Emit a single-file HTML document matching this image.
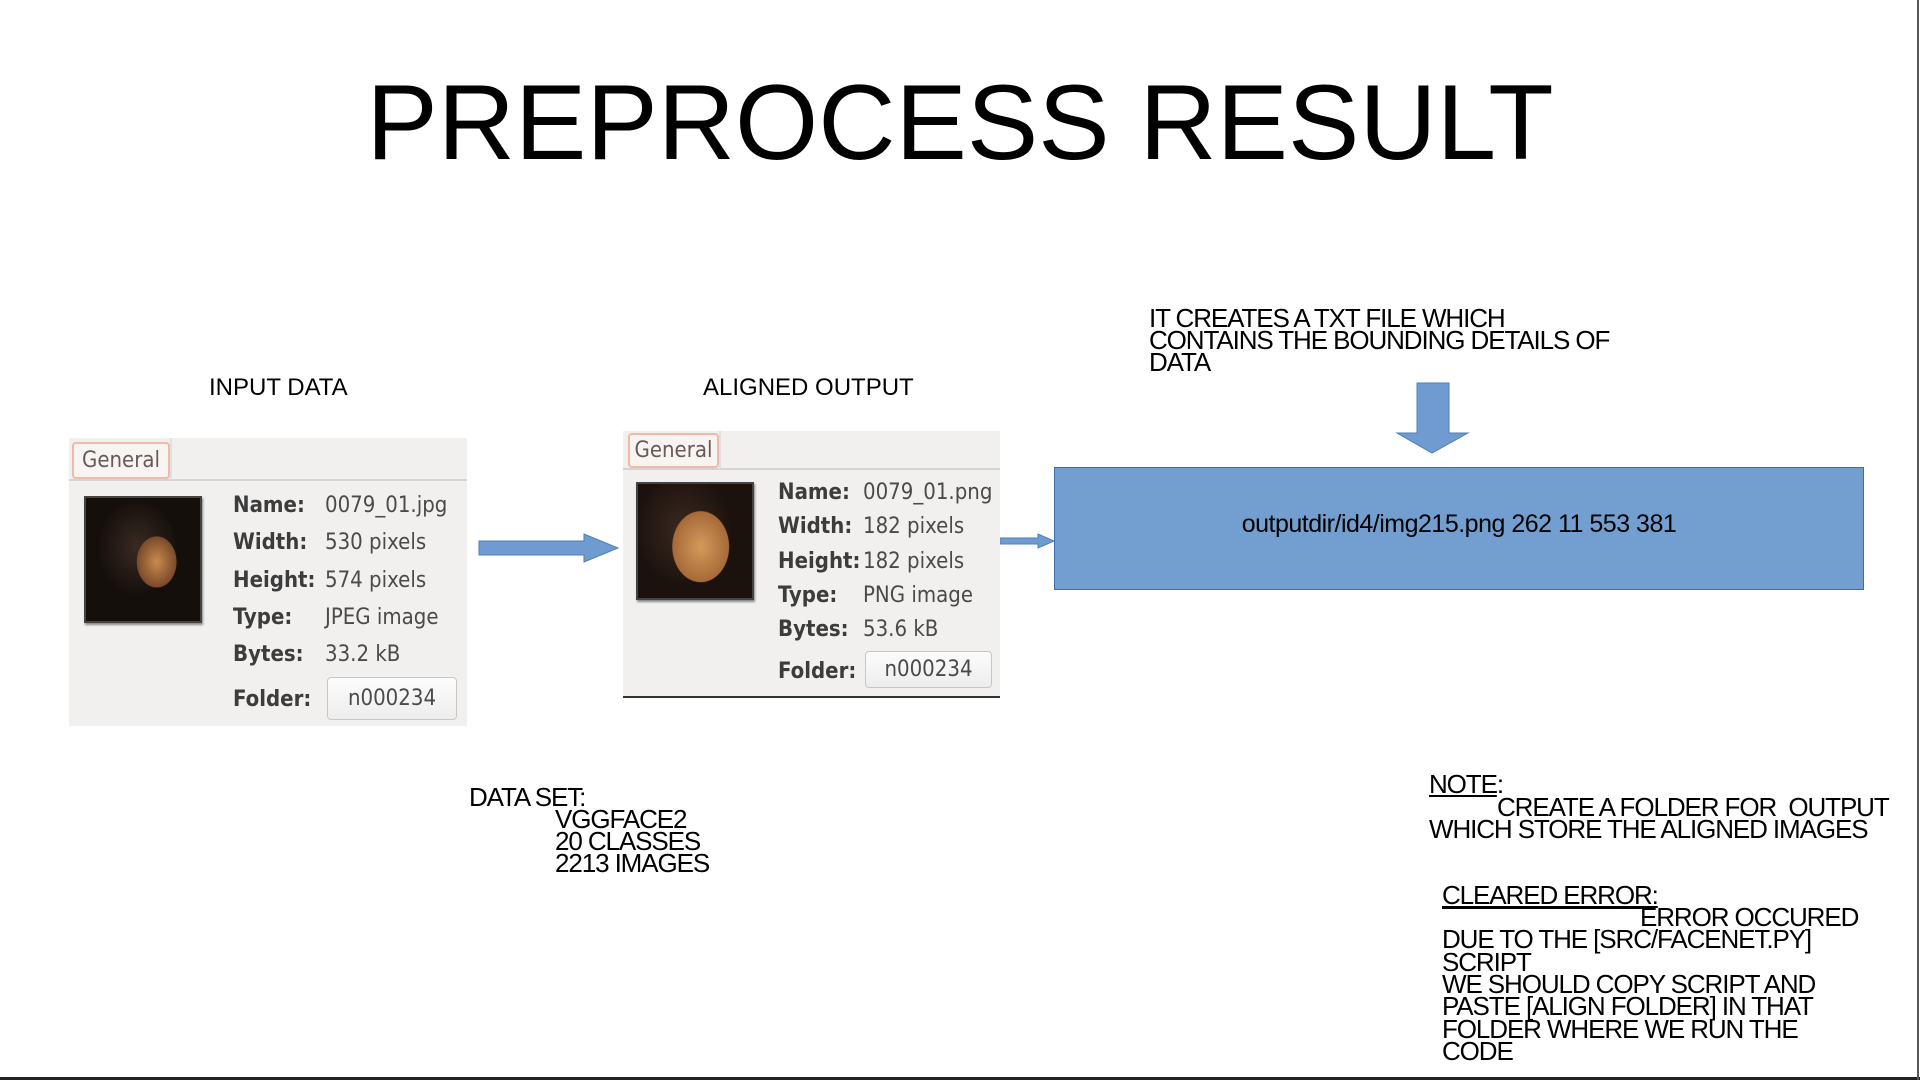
<!DOCTYPE html>
<html><head><meta charset="utf-8"><style>
body{margin:0;width:1920px;height:1080px;background:#fff;position:relative;overflow:hidden;font-family:"Liberation Sans",sans-serif;color:#000}
.a{position:absolute;white-space:pre}
.t{font-size:26px;line-height:22px;letter-spacing:-1.1px}
.lab{font-size:24px}
.p{position:absolute;background:#f1f0ef}
.pf{font-family:"DejaVu Sans Condensed","DejaVu Sans",sans-serif;color:#4a4a4a;font-size:22px;position:absolute;white-space:pre}
.b{font-weight:bold;color:#3c3c3c}
.tab{position:absolute;border:2px solid #f0b9a8;border-radius:4px;background:#f7f4f2;color:#6a5a55;font-family:"DejaVu Sans Condensed","DejaVu Sans",sans-serif;font-size:22px;text-align:center;box-sizing:border-box}
.btn{position:absolute;border:1px solid #c8c6c4;border-radius:4px;background:linear-gradient(#fcfcfc,#eeeded);font-family:"DejaVu Sans Condensed","DejaVu Sans",sans-serif;font-size:22px;color:#4a4a4a;text-align:center;box-sizing:border-box}
.ph{position:absolute;border:2px solid #444;box-shadow:1px 2px 2px #888;overflow:hidden}
</style></head><body>
<div class="a" style="left:0;width:1920px;text-align:center;top:62px;font-size:107px;line-height:120px;white-space:nowrap;padding-left:0;">PREPROCESS RESULT</div>

<div class="a lab" style="left:209px;top:374px">INPUT DATA</div>
<div class="a lab" style="left:703px;top:374px">ALIGNED OUTPUT</div>

<div class="a t" style="left:1149px;top:307px">IT CREATES A TXT FILE WHICH</div>
<div class="a t" style="left:1149px;top:329px">CONTAINS THE BOUNDING DETAILS OF</div>
<div class="a t" style="left:1149px;top:351px">DATA</div>

<!-- left panel -->
<div class="p" style="left:69px;top:438px;width:398px;height:288px"></div>
<div style="position:absolute;left:69px;top:479px;width:398px;height:2px;background:#d6d4d2"></div>
<div style="position:absolute;left:170px;top:438px;width:2px;height:42px;background:#e2e0de"></div>
<div class="tab" style="left:72px;top:442px;width:98px;height:37px;line-height:33px">General</div>
<div class="ph" style="left:84px;top:496px;width:114px;height:123px;background:radial-gradient(ellipse 28px 36px at 62% 52%,#c98a4e,#7a4a2a 70%,transparent 72%),radial-gradient(ellipse 50px 60px at 45% 40%,#3a2a22,#150f0c 80%),#140d0b"></div>
<div class="pf b" style="left:233px;top:493px">Name:</div><div class="pf" style="left:325px;top:493px">0079_01.jpg</div>
<div class="pf b" style="left:233px;top:530px">Width:</div><div class="pf" style="left:325px;top:530px">530 pixels</div>
<div class="pf b" style="left:233px;top:568px">Height:</div><div class="pf" style="left:325px;top:568px">574 pixels</div>
<div class="pf b" style="left:233px;top:605px">Type:</div><div class="pf" style="left:325px;top:605px">JPEG image</div>
<div class="pf b" style="left:233px;top:642px">Bytes:</div><div class="pf" style="left:325px;top:642px">33.2 kB</div>
<div class="pf b" style="left:233px;top:687px">Folder:</div>
<div class="btn" style="left:327px;top:677px;width:130px;height:43px;line-height:41px">n000234</div>

<svg style="position:absolute;left:0;top:0" width="1920" height="1080">
<polygon points="479,541 584,541 584,534 618,548 584,562 584,555 479,555" fill="#6f9bd0" stroke="#4f7fb8" stroke-width="1"/>
<polygon points="1000,538 1038,538 1038,534 1054,541 1038,548 1038,544 1000,544" fill="#6f9bd0" stroke="#4f7fb8" stroke-width="1"/>
<polygon points="1417,383 1449,383 1449,433 1468,433 1432,453 1397,433 1417,433" fill="#6f9bd0" stroke="#4f7fb8" stroke-width="1"/>
</svg>

<!-- right panel -->
<div class="p" style="left:623px;top:431px;width:377px;height:267px"></div>
<div style="position:absolute;left:623px;top:468px;width:377px;height:2px;background:#d6d4d2"></div>
<div style="position:absolute;left:719px;top:431px;width:2px;height:38px;background:#e2e0de"></div>
<div style="position:absolute;left:623px;top:696px;width:377px;height:2px;background:#333"></div>
<div class="tab" style="left:628px;top:433px;width:91px;height:35px;line-height:31px">General</div>
<div class="ph" style="left:636px;top:482px;width:114px;height:114px;background:radial-gradient(ellipse 40px 50px at 55% 55%,#d39a5c,#a76a38 70%,transparent 72%),radial-gradient(ellipse 60px 70px at 40% 40%,#3b2a20,#1c120d 80%),#1c120d"></div>
<div class="pf b" style="left:778px;top:480px">Name:</div><div class="pf" style="left:863px;top:480px">0079_01.png</div>
<div class="pf b" style="left:778px;top:514px">Width:</div><div class="pf" style="left:863px;top:514px">182 pixels</div>
<div class="pf b" style="left:778px;top:549px">Height:</div><div class="pf" style="left:863px;top:549px">182 pixels</div>
<div class="pf b" style="left:778px;top:583px">Type:</div><div class="pf" style="left:863px;top:583px">PNG image</div>
<div class="pf b" style="left:778px;top:617px">Bytes:</div><div class="pf" style="left:863px;top:617px">53.6 kB</div>
<div class="pf b" style="left:778px;top:659px">Folder:</div>
<div class="btn" style="left:865px;top:651px;width:127px;height:37px;line-height:35px">n000234</div>

<!-- blue box -->
<div style="position:absolute;left:1054px;top:467px;width:810px;height:123px;background:#729fcf;border:1px solid #3d6ea8;box-sizing:border-box"></div>
<div class="a" style="left:1054px;width:810px;text-align:center;top:510px;font-size:25px;letter-spacing:-0.5px">outputdir/id4/img215.png 262 11 553 381</div>

<!-- data set -->
<div class="a t" style="left:469px;top:786px">DATA SET:</div>
<div class="a t" style="left:555px;top:808px">VGGFACE2</div>
<div class="a t" style="left:555px;top:830px">20 CLASSES</div>
<div class="a t" style="left:555px;top:852px">2213 IMAGES</div>

<!-- note -->
<div class="a t" style="left:1429px;top:773px"><u>NOTE</u>:</div>
<div class="a t" style="left:1497px;top:796px">CREATE A FOLDER FOR  OUTPUT</div>
<div class="a t" style="left:1429px;top:818px">WHICH STORE THE ALIGNED IMAGES</div>

<div class="a t" style="left:1442px;top:884px"><u>CLEARED ERROR:</u></div>
<div style="position:absolute;left:1442px;top:907px;width:206px;height:2px;background:#000"></div>
<div class="a t" style="left:1640px;top:906px">ERROR OCCURED</div>
<div class="a t" style="left:1442px;top:928px">DUE TO THE [SRC/FACENET.PY]</div>
<div class="a t" style="left:1442px;top:951px">SCRIPT</div>
<div class="a t" style="left:1442px;top:973px">WE SHOULD COPY SCRIPT AND</div>
<div class="a t" style="left:1442px;top:995px">PASTE [ALIGN FOLDER] IN THAT</div>
<div class="a t" style="left:1442px;top:1018px">FOLDER WHERE WE RUN THE</div>
<div class="a t" style="left:1442px;top:1040px">CODE</div>

<div style="position:absolute;left:0;top:1077px;width:1920px;height:3px;background:#222"></div>
<div style="position:absolute;left:1917px;top:0;width:2px;height:1080px;background:#555"></div>
</body></html>
